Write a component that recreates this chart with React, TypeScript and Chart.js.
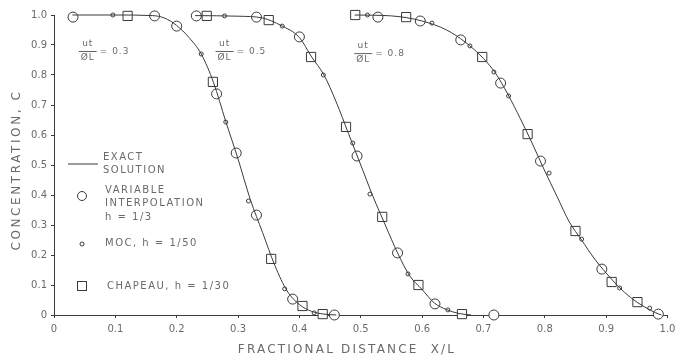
import { useEffect, useRef } from "react";
import { Chart, registerables } from "chart.js";

Chart.register(...registerables);

// Exact solution profiles, one per value of ut/φL
const exact03: [number, number][] = [
  [0.03, 1.0], [0.1, 1.0], [0.16, 0.998], [0.18, 0.99], [0.2, 0.965], [0.22, 0.925],
  [0.24, 0.87], [0.26, 0.775], [0.28, 0.645], [0.3, 0.52], [0.32, 0.385], [0.34, 0.275],
  [0.36, 0.165], [0.38, 0.08], [0.4, 0.035], [0.42, 0.012], [0.44, 0.003], [0.46, 0.0],
];
const exact05: [number, number][] = [
  [0.23, 0.998], [0.3, 0.996], [0.34, 0.99], [0.37, 0.965], [0.4, 0.925], [0.42, 0.86],
  [0.44, 0.8], [0.46, 0.71], [0.48, 0.605], [0.5, 0.5], [0.52, 0.395], [0.54, 0.3],
  [0.56, 0.207], [0.58, 0.13], [0.6, 0.085], [0.62, 0.04], [0.64, 0.018], [0.66, 0.005], [0.68, 0.0],
];
const exact08: [number, number][] = [
  [0.49, 1.0], [0.55, 0.997], [0.6, 0.98], [0.64, 0.95], [0.67, 0.91], [0.7, 0.855],
  [0.72, 0.805], [0.74, 0.735], [0.76, 0.655], [0.78, 0.57], [0.8, 0.48], [0.82, 0.395],
  [0.84, 0.31], [0.86, 0.25], [0.88, 0.19], [0.9, 0.14], [0.92, 0.095], [0.94, 0.058],
  [0.96, 0.03], [0.98, 0.008], [0.99, 0.0],
];

// Variable interpolation, h = 1/3
const variableInterp: [number, number][] = [
  [0.031, 0.993], [0.164, 0.997], [0.2, 0.963], [0.265, 0.737], [0.297, 0.54], [0.33, 0.333],
  [0.389, 0.053], [0.457, 0.0],
  [0.232, 0.997], [0.33, 0.993], [0.4, 0.927], [0.494, 0.53], [0.56, 0.207], [0.621, 0.037],
  [0.717, 0.0],
  [0.528, 0.993], [0.597, 0.98], [0.663, 0.917], [0.728, 0.773], [0.793, 0.513], [0.893, 0.153],
  [0.985, 0.003],
];

// MOC, h = 1/50
const moc: [number, number][] = [
  [0.096, 1.0], [0.24, 0.87], [0.28, 0.643], [0.317, 0.38], [0.376, 0.087], [0.424, 0.007],
  [0.278, 0.997], [0.372, 0.963], [0.439, 0.8], [0.487, 0.573], [0.515, 0.403], [0.577, 0.137],
  [0.642, 0.017],
  [0.511, 1.0], [0.616, 0.973], [0.678, 0.897], [0.717, 0.81], [0.741, 0.73], [0.807, 0.473],
  [0.86, 0.253], [0.922, 0.09], [0.971, 0.023],
];

// Chapeau, h = 1/30
const chapeau: [number, number][] = [
  [0.12, 0.997], [0.259, 0.777], [0.354, 0.187], [0.405, 0.03], [0.438, 0.003],
  [0.249, 0.997], [0.35, 0.983], [0.419, 0.86], [0.476, 0.627], [0.535, 0.327], [0.594, 0.1],
  [0.665, 0.003],
  [0.491, 1.0], [0.574, 0.993], [0.698, 0.86], [0.772, 0.603], [0.85, 0.28], [0.909, 0.11],
  [0.951, 0.043],
];

// ut/φL labels and where they sit (centre of the fraction, in data units)
const ratioValues = ["0.3", "0.5", "0.8"];
const ratioX = [0.055, 0.278, 0.504];
const ratioY = [0.88, 0.88, 0.873];

const INK = "#3a3a3a";
const TEXT = "#6a6a6a";
const FONT = "'DejaVu Sans', sans-serif";

const toPts = (arr: [number, number][]) => arr.map(([x, y]) => ({ x, y }));

const fmt = (v: number) => {
  const r = Math.round(v * 10) / 10;
  return r === 0 ? "0" : r.toFixed(1);
};

const overlayPlugin = {
  id: "overlay",
  afterDatasetsDraw(chart: any) {
    const { ctx, chartArea, scales } = chart;
    const xs = scales.x;
    const ys = scales.y;
    ctx.save();
    ctx.fillStyle = TEXT;
    ctx.strokeStyle = INK;
    ctx.textBaseline = "middle";

    // ut/φL fractions
    for (let i = 0; i < ratioValues.length; i++) {
      const cx = xs.getPixelForValue(ratioX[i]);
      const cy = ys.getPixelForValue(ratioY[i]);
      ctx.font = `9px ${FONT}`;
      (ctx as any).letterSpacing = "1px";
      ctx.textAlign = "center";
      ctx.fillText("ut", cx, cy - 7);
      ctx.fillText("ØL", cx, cy + 7);
      ctx.lineWidth = 0.8;
      ctx.beginPath();
      ctx.moveTo(cx - 9, cy + 0.5);
      ctx.lineTo(cx + 9, cy + 0.5);
      ctx.stroke();
      ctx.textAlign = "left";
      ctx.fillText("= " + ratioValues[i], cx + 12, cy + 1);
    }

    // legend block
    const lx = chartArea.left;
    const ty = chartArea.top;
    ctx.font = `10px ${FONT}`;
    (ctx as any).letterSpacing = "1.5px";
    ctx.textAlign = "left";
    ctx.lineWidth = 1;
    ctx.beginPath();
    ctx.moveTo(lx + 14, ty + 149);
    ctx.lineTo(lx + 44, ty + 149);
    ctx.stroke();
    ctx.fillText("EXACT", lx + 49, ty + 142);
    ctx.fillText("SOLUTION", lx + 49, ty + 155);

    ctx.fillStyle = "#fff";
    ctx.beginPath();
    ctx.arc(lx + 28, ty + 181, 4.5, 0, Math.PI * 2);
    ctx.fill();
    ctx.stroke();
    ctx.fillStyle = TEXT;
    ctx.fillText("VARIABLE", lx + 51, ty + 175);
    ctx.fillText("INTERPOLATION", lx + 51, ty + 188);
    ctx.fillText("h = 1/3", lx + 51, ty + 202);

    ctx.beginPath();
    ctx.arc(lx + 28, ty + 229, 2, 0, Math.PI * 2);
    ctx.stroke();
    ctx.fillText("MOC, h = 1/50", lx + 51, ty + 228);

    ctx.strokeRect(lx + 23.5, ty + 266.5, 9, 9);
    ctx.fillText("CHAPEAU, h = 1/30", lx + 53, ty + 271);

    // axis titles
    ctx.font = `12px ${FONT}`;
    (ctx as any).letterSpacing = "2.2px";
    ctx.textAlign = "center";
    ctx.fillText("FRACTIONAL DISTANCE  X/L", 347, 350);
    ctx.save();
    ctx.translate(17, 170);
    ctx.rotate(-Math.PI / 2);
    (ctx as any).letterSpacing = "2.6px";
    ctx.fillText("CONCENTRATION, C", 0, 0);
    ctx.restore();

    ctx.restore();
  },
};

export default function App() {
  const canvasRef = useRef<HTMLCanvasElement | null>(null);

  useEffect(() => {
    if (!canvasRef.current) return;
    const lineStyle = {
      showLine: true,
      borderColor: INK,
      borderWidth: 1,
      pointRadius: 0,
      cubicInterpolationMode: "monotone" as const,
      clip: false as any,
    };
    const markerStyle = {
      showLine: false,
      borderColor: INK,
      backgroundColor: "#ffffff",
      borderWidth: 1,
      clip: false as any,
    };
    const chart = new Chart(canvasRef.current, {
      type: "scatter",
      data: {
        datasets: [
          { label: "Exact 0.3", data: toPts(exact03), ...lineStyle },
          { label: "Exact 0.5", data: toPts(exact05), ...lineStyle },
          { label: "Exact 0.8", data: toPts(exact08), ...lineStyle },
          { label: "MOC", data: toPts(moc), ...markerStyle, pointRadius: 2, pointStyle: "circle" },
          { label: "Chapeau", data: toPts(chapeau), ...markerStyle, pointRadius: 6.5, pointStyle: "rect" },
          { label: "Variable interpolation", data: toPts(variableInterp), ...markerStyle, pointRadius: 5, pointStyle: "circle" },
        ] as any,
      },
      options: {
        animation: false,
        responsive: false,
        devicePixelRatio: 1,
        layout: { padding: { top: 15, right: 6, left: 0, bottom: 0 } },
        plugins: { legend: { display: false }, tooltip: { enabled: false } },
        scales: {
          x: {
            type: "linear",
            min: 0,
            max: 1,
            afterFit: (s: any) => {
              s.height = 42;
              s.paddingLeft = 0;
              s.paddingRight = 0;
            },
            border: { color: INK, width: 1 },
            grid: { display: true, drawOnChartArea: false, tickLength: 3, color: INK },
            ticks: {
              stepSize: 0.1,
              color: TEXT,
              font: { family: FONT, size: 10 },
              padding: 5,
              maxRotation: 0,
              callback: (v: any) => fmt(Number(v)),
            },
          },
          y: {
            type: "linear",
            min: 0,
            max: 1,
            afterFit: (s: any) => {
              s.width = 54;
              s.paddingTop = 0;
              s.paddingBottom = 0;
            },
            border: { color: INK, width: 1 },
            grid: { display: true, drawOnChartArea: false, tickLength: 3, color: INK },
            ticks: {
              stepSize: 0.1,
              color: TEXT,
              font: { family: FONT, size: 10 },
              padding: 4,
              callback: (v: any) => fmt(Number(v)),
            },
          },
        },
      },
      plugins: [overlayPlugin],
    });
    return () => chart.destroy();
  }, []);

  return (
    <div style={{ position: "fixed", left: 0, top: 0, width: 675, height: 357, background: "#fff" }}>
      <canvas ref={canvasRef} width={675} height={357} style={{ display: "block" }} />
    </div>
  );
}
